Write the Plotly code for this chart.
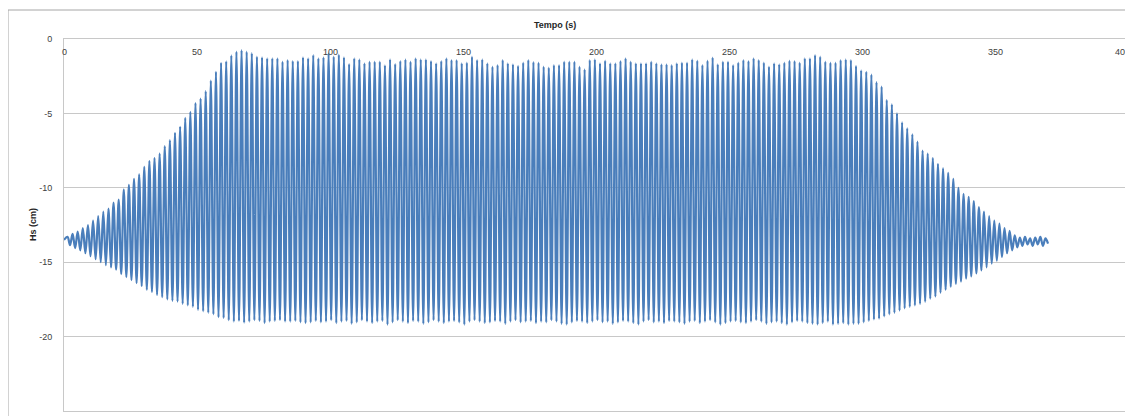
import numpy as np
import plotly.graph_objects as go

# ---- data ----
START_T = 0.0
START_HS = -13.5
FIRST_CREST_T = 1.3      # s, time of first crest
PERIOD = 1.925           # s, wave period read from crest spacing

CRESTS = [
    -13.3, -13.1, -12.95, -12.7, -12.5, -12.2, -11.9, -11.6, -11.4, -11.0,
    -10.8, -10.1, -9.8, -9.4, -9.1, -8.6, -8.2, -8.0, -7.7, -7.2,
    -6.8, -6.3, -5.9, -5.3, -4.9, -4.3, -4.0, -3.5, -2.8, -2.2,
    -1.6, -1.5, -1.1, -0.85, -0.75, -0.85, -0.95, -1.19, -1.23, -1.30,
    -1.30, -1.30, -1.52, -1.41, -1.48, -1.48, -1.23, -1.30, -1.08, -1.30,
    -1.23, -0.96, -1.19, -1.05, -1.23, -1.68, -1.30, -1.37, -1.63, -1.52,
    -1.52, -1.52, -1.77, -1.37, -1.68, -1.48, -1.37, -1.52, -1.30, -1.37,
    -1.37, -1.48, -1.63, -1.48, -1.30, -1.41, -1.41, -1.63, -1.59, -1.19,
    -1.41, -1.37, -1.63, -1.86, -1.75, -1.41, -1.63, -1.70, -1.81, -1.59,
    -1.41, -1.55, -1.59, -1.86, -1.93, -1.75, -1.75, -1.52, -1.52, -1.52,
    -1.86, -2.04, -1.41, -1.37, -1.63, -1.46, -1.63, -1.63, -1.48, -1.30,
    -1.52, -1.63, -1.63, -1.63, -1.52, -1.63, -1.70, -1.70, -1.75, -1.63,
    -1.59, -1.59, -1.37, -1.46, -1.75, -1.46, -1.25, -1.70, -1.52, -1.52,
    -1.75, -1.59, -1.41, -1.48, -1.30, -1.41, -1.59, -1.86, -1.63, -1.70,
    -1.59, -1.46, -1.48, -1.59, -1.30, -1.30, -1.08, -1.19, -1.52, -1.59,
    -1.59, -1.41, -1.37, -1.41, -1.81, -2.1, -2.2, -2.4, -2.9, -3.2,
    -4.1, -4.4, -5.0, -5.6, -6.0, -6.4, -6.9, -7.5, -7.7, -8.0,
    -8.4, -8.7, -9.0, -9.4, -10.0, -10.4, -10.6, -10.9, -11.3, -11.6,
    -11.9, -12.2, -12.4, -12.7, -12.9, -13.2, -13.35, -13.3, -13.4, -13.35,
    -13.3, -13.4,
]

TROUGHS = [
    -13.85, -14.05, -14.2, -14.4, -14.6, -14.8, -15.0, -15.2, -15.35, -15.5,
    -15.8, -16.0, -16.2, -16.4, -16.6, -16.85, -17.0, -17.2, -17.35, -17.5,
    -17.6, -17.65, -17.8, -17.9, -18.0, -18.2, -18.3, -18.4, -18.5, -18.7,
    -18.75, -18.9, -19.0, -18.95, -19.07, -19.0, -18.9, -18.95, -19.1, -19.0,
    -18.95, -18.9, -19.0, -19.0, -18.95, -19.05, -19.1, -19.05, -18.95,
    -19.05, -19.0, -18.9, -19.1, -19.0, -18.95, -19.15, -19.05, -18.9, -19.0,
    -19.1, -19.0, -18.95, -19.2, -19.05, -18.9, -19.0, -19.1, -18.95, -19.0,
    -19.15, -19.05, -18.9, -19.0, -19.1, -19.0, -18.95, -19.05, -19.2, -19.0,
    -18.9, -19.0, -19.1, -19.05, -18.95, -19.0, -19.15, -19.0, -18.9, -19.05,
    -19.0, -18.95, -19.1, -19.0, -19.05, -18.9, -19.0, -19.15, -19.2, -19.05,
    -18.95, -19.0, -19.1, -19.0, -18.9, -19.05, -19.0, -19.15, -19.05, -18.95,
    -19.0, -19.1, -19.2, -19.0, -18.9, -19.05, -19.0, -19.1, -18.95, -19.0,
    -19.05, -19.15, -19.0, -18.95, -19.1, -19.0, -18.9, -19.05, -19.2, -19.1,
    -19.0, -18.95, -19.05, -19.1, -19.0, -18.9, -19.0, -19.15, -19.05, -19.0,
    -19.1, -19.2, -19.05, -18.95, -19.0, -19.1, -19.15, -19.2, -19.1, -19.0,
    -19.2, -19.15, -19.1, -19.2, -19.15,
    -19.15, -19.05, -18.95, -18.85, -18.8, -18.65, -18.5, -18.4, -18.25, -18.1,
    -18.0, -17.9, -17.8, -17.65, -17.45, -17.3, -17.05, -16.85, -16.65, -16.45,
    -16.3, -16.1, -15.95, -15.75, -15.55, -15.35, -15.1, -14.9, -14.65, -14.4,
    -14.2, -14.0, -13.9, -13.8, -13.9, -13.8, -13.9, -13.75,
]

X_TICKS = [0, 50, 100, 150, 200, 250, 300, 350, 400]
Y_TICKS = [0, -5, -10, -15, -20, -25]
Y_TICK_TEXT = ["0", "-5", "-10", "-15", "-20", "-25"]
X_TITLE = "Tempo (s)"
Y_TITLE = "Hs (cm)"

# ---- build the trace: alternating crest / trough samples ----
n = min(len(CRESTS), len(TROUGHS))
k = np.arange(n)
t_crest = FIRST_CREST_T + PERIOD * k
t_trough = t_crest + PERIOD / 2
xs = [START_T]
ys = [START_HS]
for i in range(n):
    xs += [t_crest[i], t_trough[i]]
    ys += [CRESTS[i], TROUGHS[i]]

BLUE = "#4A7EBB"
GRID = "#C8C8C8"
FONT = "Liberation Sans, Arial, sans-serif"
TICK_COLOR = "#404040"

fig = go.Figure()
fig.add_trace(go.Scatter(
    x=xs, y=ys, mode="lines",
    line=dict(color=BLUE, width=2.2, shape="spline", smoothing=1.0),
    hoverinfo="x+y", showlegend=False,
))

# page body has an 8px margin: figure pixel = screen pixel - 8
W, H = 1125, 408
L, R, T, B = 56, 5, 31, 5
pw = W - L - R
ph = H - T - B

fig.update_layout(
    width=W, height=H,
    margin=dict(l=L, r=R, t=T, b=B, autoexpand=False),
    paper_bgcolor="white", plot_bgcolor="white",
    font=dict(family=FONT, size=9, color=TICK_COLOR),
    xaxis=dict(
        range=[0, 400], side="top",
        showticklabels=False, ticks="",
        showgrid=False, zeroline=False,
        showline=True, linecolor=GRID, linewidth=1, mirror=True,
    ),
    yaxis=dict(
        range=[-25, 0],
        tickvals=Y_TICKS, ticktext=Y_TICK_TEXT,
        showgrid=True, gridcolor=GRID, gridwidth=1,
        zeroline=False, showline=True, linecolor=GRID, linewidth=1,
        ticks="", ticklabelstandoff=9,
        tickfont=dict(size=9, color=TICK_COLOR),
    ),
)

# x tick labels sit just below the top (0) line, as in the Excel chart
for v in X_TICKS:
    last = v == X_TICKS[-1]
    fig.add_annotation(text=str(v), x=v, xref="x", y=1, yref="paper",
                       yanchor="top", xanchor="right" if last else "center",
                       xshift=4 if last else 0, yshift=-6,
                       showarrow=False, font=dict(size=9, color=TICK_COLOR))

# outer chart border (Excel chart area)
fig.add_shape(type="rect", xref="paper", yref="paper",
              x0=(0 - L) / pw, x1=1.2, y0=-0.2, y1=(H - B - 2) / ph,
              line=dict(color="#A6A6A6", width=1), fillcolor="rgba(0,0,0,0)",
              layer="below")

fig.add_annotation(text="<b>" + X_TITLE + "</b>", xref="paper", yref="paper",
                   x=(547 - L) / pw, y=(H - B - 17) / ph, showarrow=False,
                   font=dict(size=9, color="#262626"), xanchor="center", yanchor="middle")
fig.add_annotation(text="<b>" + Y_TITLE + "</b>", xref="paper", yref="paper",
                   x=(25 - L) / pw, y=0.5, showarrow=False, textangle=-90,
                   font=dict(size=9, color="#262626"), xanchor="center", yanchor="middle")

fig.write_html("out.html")
